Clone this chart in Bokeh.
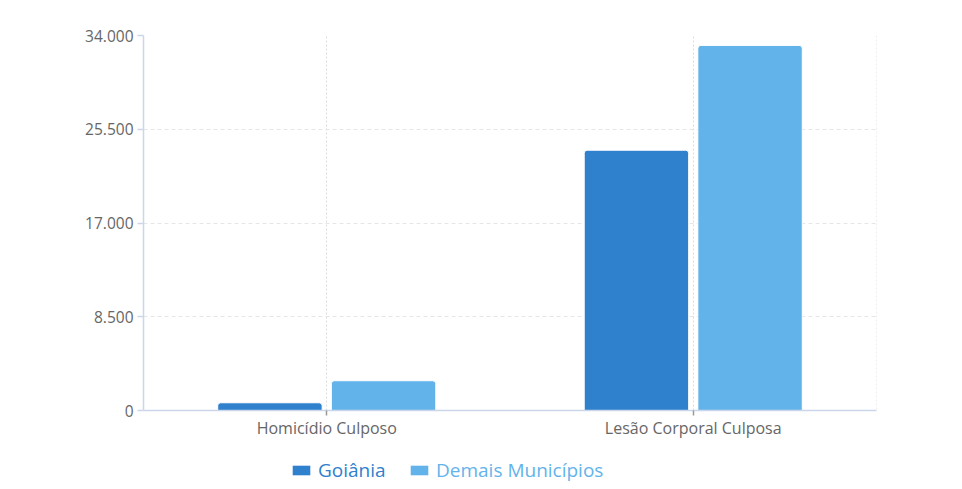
from bokeh.plotting import figure
from bokeh.layouts import column
from bokeh.models import FactorRange, Range1d, FixedTicker, Legend, LegendItem, Span, ColumnDataSource
from bokeh.transform import dodge
from bokeh.embed import file_html
from bokeh.resources import INLINE

categories = ["Homicídio Culposo", "Lesão Corporal Culposa"]
goiania = [700, 23600]
demais = [2700, 33100]
series_names = ["Goiânia", "Demais Municípios"]
y_ticks = [0, 8500, 17000, 25500, 34000]
y_tick_labels = ["0", "8.500", "17.000", "25.500", "34.000"]
colors = ["#2f80cd", "#63b3eb"]

FONT = "Open Sans"
AXIS_COLOR = "#ccd6eb"
LABEL_COLOR = "#666666"

src = ColumnDataSource(dict(cat=categories, goiania=goiania, demais=demais))

p = figure(
    x_range=FactorRange(factors=categories, range_padding=0),
    y_range=Range1d(0, 34000),
    width=954, height=445,
    output_backend="svg", toolbar_location=None,
    min_border_left=143, min_border_right=78,
    min_border_top=35, min_border_bottom=35,
)
p.outline_line_color = None

r1 = p.vbar(x=dodge("cat", -0.155, range=p.x_range), top="goiania", width=0.285,
            source=src, fill_color=colors[0], line_color="white", line_width=1,
            border_radius=(3, 3, 0, 0))
r2 = p.vbar(x=dodge("cat", 0.155, range=p.x_range), top="demais", width=0.285,
            source=src, fill_color=colors[1], line_color="white", line_width=1,
            border_radius=(3, 3, 0, 0))

# axes
p.yaxis.ticker = FixedTicker(ticks=y_ticks)
p.yaxis.major_label_overrides = {t: l for t, l in zip(y_ticks, y_tick_labels)}
for ax in (p.xaxis, p.yaxis):
    ax.axis_line_color = AXIS_COLOR
    ax.axis_line_width = 1.5
    ax.major_tick_line_color = AXIS_COLOR
    ax.major_tick_line_width = 1.5
    ax.major_tick_in = 0
    ax.minor_tick_line_color = None
    ax.major_label_text_font = FONT
    ax.major_label_text_color = LABEL_COLOR
p.yaxis.major_label_text_font_size = "15.5px"
p.xaxis.major_label_text_font_size = "16px"
p.yaxis.major_tick_out = 6
p.yaxis.major_label_standoff = 4
p.xaxis.major_tick_out = 5
p.xaxis.major_label_standoff = 1
p.xaxis.major_tick_line_color = "#999999"

# grids
p.ygrid.grid_line_color = "#e6e6e6"
p.ygrid.grid_line_dash = "4 3"
p.xgrid.grid_line_color = "#dcdcdc"
p.xgrid.grid_line_dash = "2 2"
p.add_layout(Span(location=2, dimension="height", line_color="#dcdcdc", line_dash="2 2", line_width=1))

# legend strip below the chart (separate legends so each label carries its series colour)
lg = figure(width=954, height=40, x_range=Range1d(0, 1), y_range=Range1d(0, 1),
            output_backend="svg", toolbar_location=None,
            min_border_left=143, min_border_right=78,
            min_border_top=0, min_border_bottom=0)
lg.axis.visible = False
lg.grid.visible = False
lg.outline_line_color = None
hidden = ColumnDataSource(dict(x=[-10.0], top=[0.0]))
for name, col, x in ((series_names[0], colors[0], 147), (series_names[1], colors[1], 265)):
    rr = lg.vbar(x="x", top="top", width=0.1, source=hidden, fill_color=col, line_color=None)
    leg = Legend(items=[LegendItem(label=name, renderers=[rr])], location=(x, 2),
                 orientation="horizontal", padding=0, margin=0, spacing=0,
                 glyph_width=22, glyph_height=12, label_standoff=6,
                 label_text_font=FONT, label_text_font_size="19px",
                 label_text_color=col, border_line_color=None,
                 background_fill_alpha=0, label_height=20)
    lg.add_layout(leg)

layout = column(p, lg, spacing=0)
open("out.html", "w").write(file_html(layout, INLINE))
